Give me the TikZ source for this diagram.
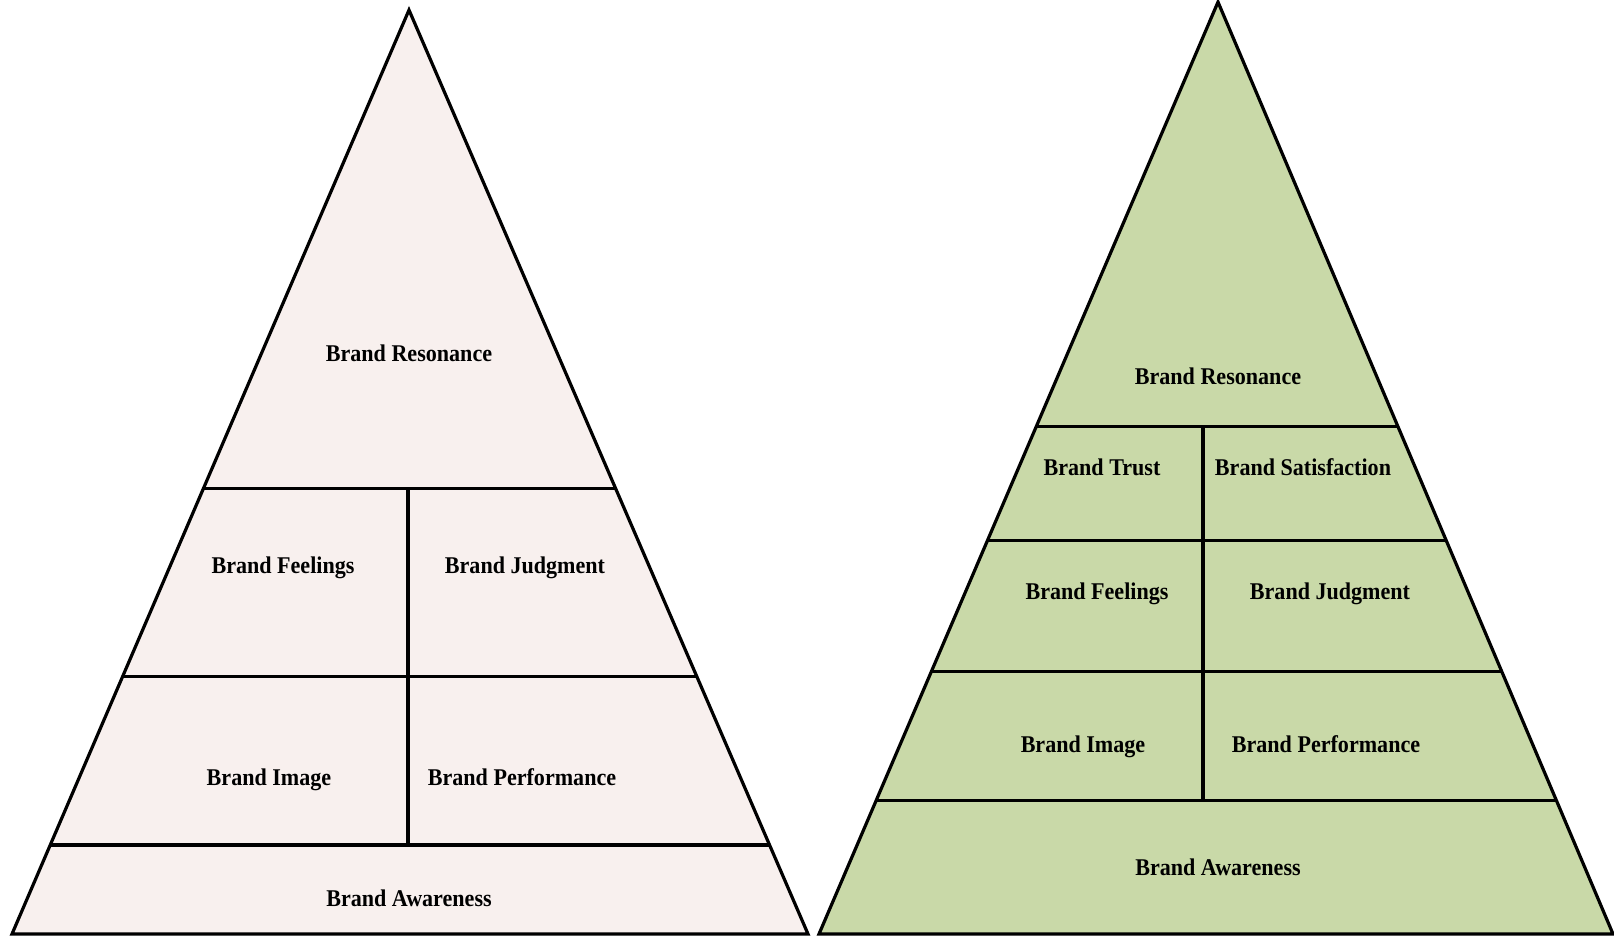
\documentclass[tikz,border=0pt]{standalone}
\usepackage{fontspec}
\setmainfont{Liberation Serif}[FakeStretch=0.92]
\usetikzlibrary{calc}
\definecolor{blush}{RGB}{248,240,238}
\definecolor{sage}{RGB}{201,217,168}
\tikzset{
  edge/.style={line width=3.2pt, line join=miter},
  tier/.style={line width=3.2pt},
  caption/.style={font=\fontsize{24}{24}\selectfont\bfseries, text=black,
    inner sep=0pt, text depth=0pt}
}
\begin{document}
\begin{tikzpicture}[x=1pt,y=-1pt]
\useasboundingbox (0,0) rectangle (1614,935);
\clip (0,0) rectangle (1614,935);

% ---- left pyramid: four tiers ----
\coordinate (LA) at (409,10);
\coordinate (LL) at (12,934);
\coordinate (LR) at (808,934);
\filldraw[edge, fill=blush] (LA) -- (LL) -- (LR) -- cycle;
\foreach \t/\n in {0.518/1, 0.7216/2, 0.9036/3}{
  \coordinate (Ll\n) at ($(LA)!\t!(LL)$);
  \coordinate (Lr\n) at ($(LA)!\t!(LR)$);
  \draw[tier] (Ll\n) -- (Lr\n);
}
\draw[tier] (408,488) -- (408,844);

\node[caption] (lres)  at (409,353) {Brand Resonance};
\node[caption] (lfeel) at (283,565) {Brand Feelings};
\node[caption] (ljudg) at (525,565) {Brand Judgment};
\node[caption] (limg)  at (269,777) {Brand Image};
\node[caption] (lperf) at (522,777) {Brand Performance};
\node[caption] (lawr)  at (409,898) {Brand Awareness};

% ---- right pyramid: five tiers ----
\coordinate (RA) at (1218,2);
\coordinate (RL) at (819,934);
\coordinate (RR) at (1613,934);
\filldraw[edge, fill=sage] (RA) -- (RL) -- (RR) -- cycle;
\foreach \t/\n in {0.4554/1, 0.5779/2, 0.7186/3, 0.8571/4}{
  \coordinate (Rl\n) at ($(RA)!\t!(RL)$);
  \coordinate (Rr\n) at ($(RA)!\t!(RR)$);
  \draw[tier] (Rl\n) -- (Rr\n);
}
\draw[tier] (1203,426) -- (1203,800);

\node[caption] (rres)  at (1218,376) {Brand Resonance};
\node[caption] (rtru)  at (1102,467) {Brand Trust};
\node[caption] (rsat)  at (1303,467) {Brand Satisfaction};
\node[caption] (rfeel) at (1097,591) {Brand Feelings};
\node[caption] (rjudg) at (1330,591) {Brand Judgment};
\node[caption] (rimg)  at (1083,744) {Brand Image};
\node[caption] (rperf) at (1326,744) {Brand Performance};
\node[caption] (rawr)  at (1218,867) {Brand Awareness};
\end{tikzpicture}
\end{document}
